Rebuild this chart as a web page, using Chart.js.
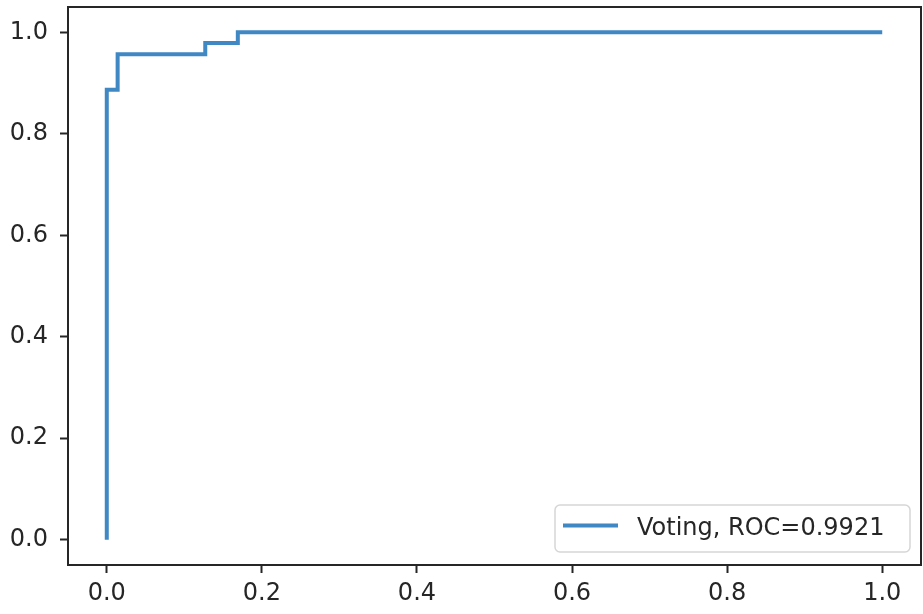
<!DOCTYPE html>
<html>
<head>
<meta charset="utf-8">
<script src="https://cdn.jsdelivr.net/npm/chart.js@4/dist/chart.umd.min.js"></script>
<style>
  html, body { margin: 0; padding: 0; background: #ffffff; }
  #wrap { width: 923px; height: 614px; position: relative; }
</style>
</head>
<body>
<div id="wrap"><canvas id="roc" width="923" height="614"></canvas></div>
<script>
// ROC curve of the voting classifier: false positive rate vs true positive rate
const fpr = [0.0, 0.0, 0.014, 0.014, 0.127, 0.127, 0.169, 0.169, 1.0];
const tpr = [0.0, 0.887, 0.887, 0.957, 0.957, 0.979, 0.979, 1.0, 1.0];
const seriesLabel = 'Voting, ROC=0.9921';
const tickValues = [0.0, 0.2, 0.4, 0.6, 0.8, 1.0];

const points = fpr.map((x, i) => ({ x: x, y: tpr[i] }));

const FONT = 'DejaVu Sans';
const TEXT = '#262626';

// legend box drawn inside the plot area, lower right corner
const insideLegend = {
  id: 'insideLegend',
  afterDraw(chart) {
    const { ctx, chartArea } = chart;
    const ds = chart.data.datasets[0];
    const w = 355, h = 47;
    const x = chartArea.right - 11 - w;
    const y = chartArea.bottom - 13 - h;
    ctx.save();
    ctx.beginPath();
    ctx.roundRect(x, y, w, h, 5);
    ctx.fillStyle = 'rgba(255,255,255,0.8)';
    ctx.fill();
    ctx.strokeStyle = '#d6d6d6';
    ctx.lineWidth = 1.5;
    ctx.stroke();
    ctx.beginPath();
    ctx.moveTo(x + 8, y + h / 2 - 3);
    ctx.lineTo(x + 63, y + h / 2 - 3);
    ctx.strokeStyle = ds.borderColor;
    ctx.lineWidth = ds.borderWidth;
    ctx.stroke();
    ctx.fillStyle = TEXT;
    ctx.font = '24px "' + FONT + '"';
    ctx.textBaseline = 'middle';
    ctx.textAlign = 'left';
    ctx.fillText(ds.label, x + 82, y + h / 2);
    ctx.restore();
  }
};

// full rectangular frame around the plot area
const frame = {
  id: 'frame',
  afterDatasetsDraw(chart) {
    const { ctx, chartArea: a } = chart;
    ctx.save();
    ctx.strokeStyle = '#262626';
    ctx.lineWidth = 2;
    ctx.strokeRect(a.left, a.top, a.right - a.left, a.bottom - a.top);
    ctx.restore();
  }
};

const fixTicks = (scale) => {
  scale.ticks = tickValues.map(v => ({ value: v }));
};

const tickGrid = {
  display: true,
  drawOnChartArea: false,
  drawTicks: true,
  tickLength: 8,
  tickWidth: 2,
  tickColor: '#262626'
};

new Chart(document.getElementById('roc'), {
  type: 'scatter',
  data: {
    datasets: [{
      label: seriesLabel,
      data: points,
      showLine: true,
      borderColor: '#3f88c4',
      backgroundColor: '#3f88c4',
      borderWidth: 4,
      pointRadius: 0,
      tension: 0,
      borderJoinStyle: 'miter',
      borderCapStyle: 'butt'
    }]
  },
  options: {
    responsive: false,
    animation: false,
    devicePixelRatio: 1,
    layout: { padding: { top: 7, right: 2, left: 0, bottom: 0 } },
    plugins: {
      legend: { display: false },
      tooltip: { enabled: false }
    },
    scales: {
      x: {
        type: 'linear',
        min: -0.05,
        max: 1.05,
        afterBuildTicks: fixTicks,
        afterFit(scale) {
          scale.height = 49;
          scale.paddingLeft = 0;
          scale.paddingRight = 0;
        },
        grid: tickGrid,
        border: { display: false },
        ticks: {
          color: TEXT,
          font: { family: FONT, size: 24 },
          padding: 6,
          maxRotation: 0,
          callback: (v) => Number(v).toFixed(1)
        }
      },
      y: {
        type: 'linear',
        min: -0.05,
        max: 1.05,
        afterBuildTicks: fixTicks,
        afterFit(scale) {
          scale.width = 68;
          scale.paddingTop = 0;
          scale.paddingBottom = 0;
        },
        grid: tickGrid,
        border: { display: false },
        ticks: {
          color: TEXT,
          font: { family: FONT, size: 24 },
          padding: 12,
          callback: (v) => Number(v).toFixed(1)
        }
      }
    }
  },
  plugins: [frame, insideLegend]
});
</script>
</body>
</html>
